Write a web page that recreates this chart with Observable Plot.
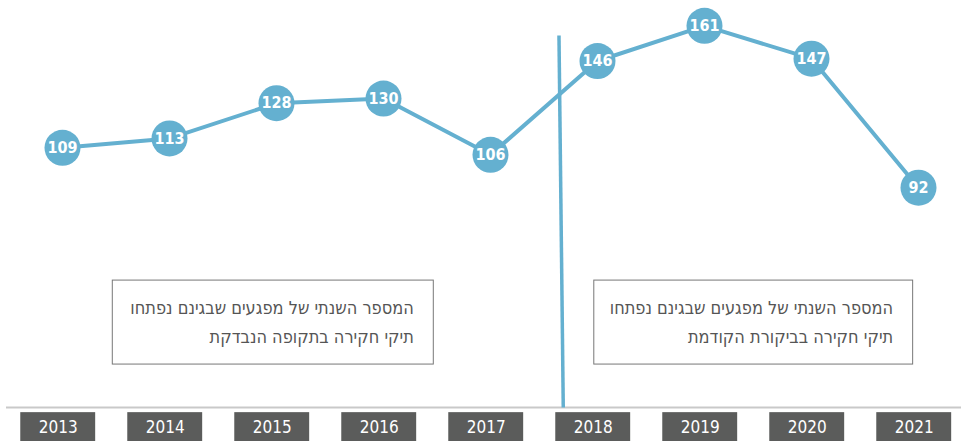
<!DOCTYPE html>
<html>
<head>
<meta charset="utf-8">
<script src="https://cdn.jsdelivr.net/npm/d3@7"></script>
<script src="https://cdn.jsdelivr.net/npm/@observablehq/plot@0.6"></script>
<style>
  html, body { margin: 0; padding: 0; background: #fff; }
  #chart svg { display: block; }
</style>
</head>
<body>
<div id="chart"></div>
<script>
const years = [2013, 2014, 2015, 2016, 2017, 2018, 2019, 2020, 2021];
const values = [109, 113, 128, 130, 106, 146, 161, 147, 92];

const notes = [
  { text: "המספר השנתי של מפגעים שבגינם נפתחו\nתיקי חקירה בתקופה הנבדקת", from: 2013.47, to: 2016.47 },
  { text: "המספר השנתי של מפגעים שבגינם נפתחו\nתיקי חקירה בביקורת הקודמת", from: 2017.97, to: 2020.95 }
];
const noteBottom = 16.6, noteTop = 52.4;
const divider = { xTop: 2017.64, yTop: 156.9, xBottom: 2017.68, yBottom: -1.7 };
const baselineValue = -1.7;
const labelRow = { top: -3.9, bottom: -17, mid: -10.4 };

const data = years.map((year, i) => ({ year, value: values[i] }));

const blue = "#64b0d0";
const condensed = "'DejaVu Sans Condensed', 'Liberation Sans Narrow', 'Liberation Sans', sans-serif";

const chart = Plot.plot({
  width: 961,
  height: 441,
  marginLeft: 6,
  marginRight: 0,
  marginTop: 0,
  marginBottom: 0,
  x: { domain: [2013, 2021], range: [62, 918], axis: null },
  y: { domain: [0, 171.8], range: [403, 0], axis: null },
  style: { fontFamily: condensed, background: "#fff" },
  marks: [
    Plot.ruleY([baselineValue], { stroke: "#c9c9c9", strokeWidth: 2 }),
    Plot.rect(data, {
      x1: d => d.year - 0.39, x2: d => d.year + 0.31,
      y1: labelRow.top, y2: labelRow.bottom,
      fill: "#5b5c5b"
    }),
    Plot.text(data, {
      x: d => d.year - 0.04, y: labelRow.mid, text: d => String(d.year),
      fill: "#fff", fontSize: 17, fontFamily: condensed
    }),
    Plot.rect(notes, {
      x1: "from", x2: "to", y1: noteBottom, y2: noteTop,
      fill: "#fff", stroke: "#777", strokeWidth: 1
    }),
    Plot.text(notes, {
      x: "to", y: (noteBottom + noteTop) / 2, text: "text",
      textAnchor: "end", dx: -20, dy: -3, lineAnchor: "middle", lineHeight: 1.6,
      fontSize: 18, fill: "#555", fontFamily: condensed
    }),
    Plot.link([divider], {
      x1: "xTop", y1: "yTop", x2: "xBottom", y2: "yBottom",
      stroke: blue, strokeWidth: 3.5
    }),
    Plot.line(data, { x: "year", y: "value", stroke: blue, strokeWidth: 4 }),
    Plot.dot(data, { x: "year", y: "value", r: 18, fill: blue }),
    Plot.text(data, {
      x: "year", y: "value", text: d => String(d.value),
      fill: "#fff", fontSize: 16, fontWeight: "bold", fontFamily: condensed
    })
  ]
});
document.getElementById("chart").appendChild(chart);
</script>
</body>
</html>
